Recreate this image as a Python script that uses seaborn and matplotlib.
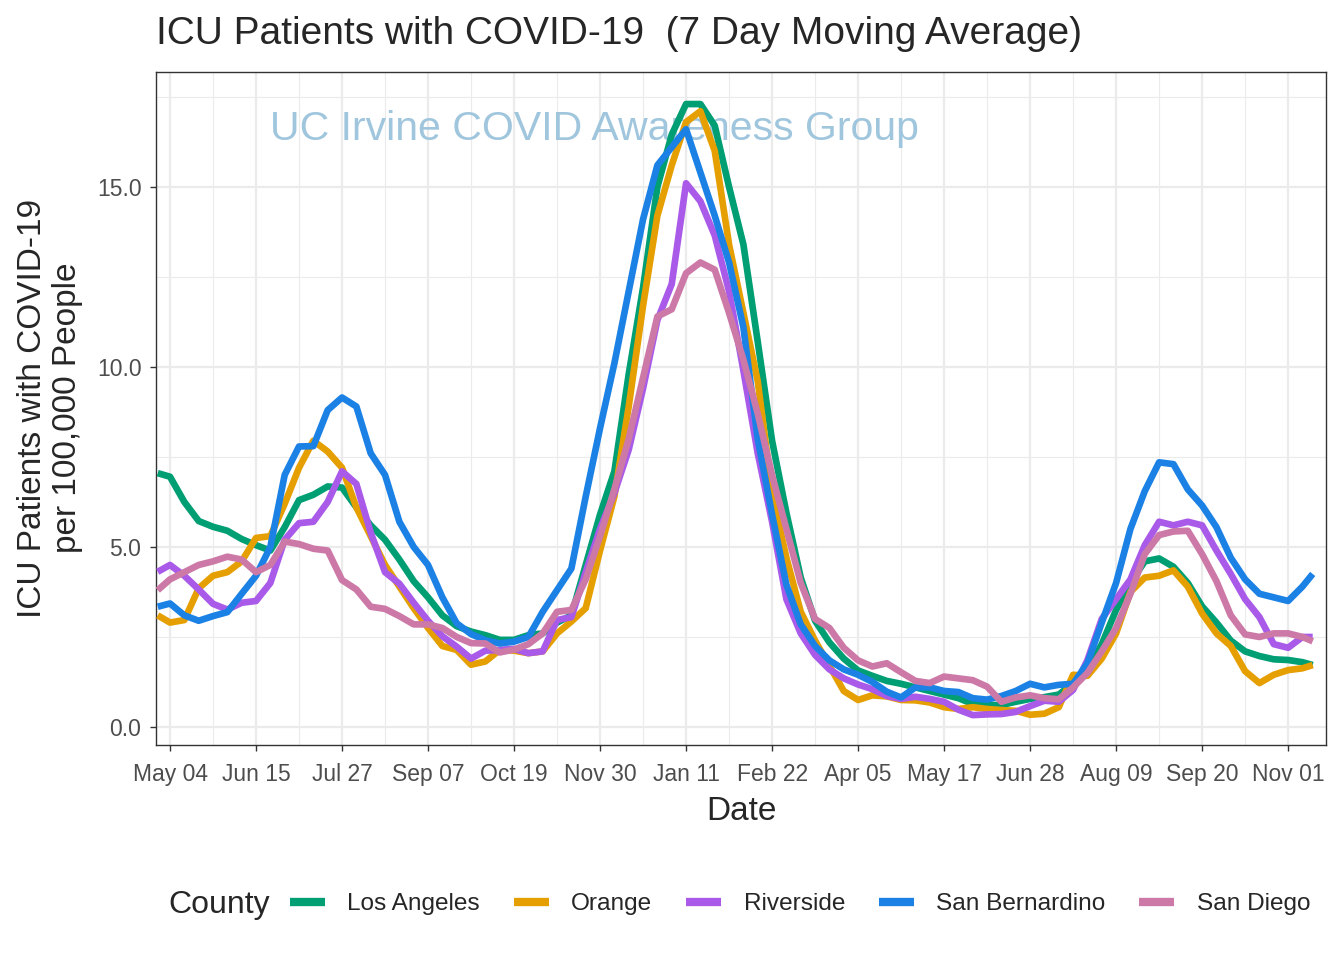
import numpy as np
import pandas as pd
import matplotlib
matplotlib.use("Agg")
import matplotlib.pyplot as plt
import matplotlib.dates as mdates
from matplotlib.lines import Line2D
import seaborn as sns

# ---------------- data ----------------
counties = ["Los Angeles", "Orange", "Riverside", "San Bernardino", "San Diego"]
colors = ["#009E73", "#E69F00", "#A95AE9", "#1B81E5", "#CC79A7"]

first_date = "2020-04-28"
weekly_start = "2020-05-04"
n_weekly = 80
last_date = "2021-11-13"

los_angeles = [7.05, 6.95, 6.25, 5.72, 5.56, 5.45, 5.22, 5.05, 4.9, 5.55,
               6.3, 6.45, 6.68, 6.65, 6.1, 5.6, 5.2, 4.65, 4.05, 3.6,
               3.1, 2.8, 2.65, 2.55, 2.42, 2.42, 2.55, 2.6, 2.9, 3.1,
               4.5, 5.9, 7.1, 9.8, 12.2, 15.0, 16.45, 17.3, 17.3, 16.7,
               15.0, 13.4, 10.7, 7.95, 5.95, 4.15, 2.95, 2.35, 1.9, 1.57,
               1.42, 1.28, 1.2, 1.1, 1.0, 0.9, 0.8, 0.64, 0.61, 0.61,
               0.7, 0.78, 0.83, 0.9, 1.21, 1.58, 2.3, 3.25, 4.0, 4.6,
               4.68, 4.45, 4.0, 3.35, 2.9, 2.4, 2.1, 1.97, 1.88, 1.86,
               1.8, 1.72]

orange = [3.1, 2.9, 2.97, 3.85, 4.2, 4.3, 4.6, 5.25, 5.3, 6.2,
          7.2, 7.95, 7.65, 7.2, 6.1, 5.3, 4.5, 3.9, 3.3, 2.75,
          2.25, 2.14, 1.73, 1.82, 2.14, 2.12, 2.05, 2.1, 2.6, 2.93,
          3.3, 4.9, 6.4, 8.9, 11.7, 14.2, 15.6, 16.8, 17.1, 16.0,
          13.4, 11.5, 9.6, 6.5, 4.7, 3.2, 2.4, 1.7, 1.0, 0.75,
          0.88, 0.85, 0.75, 0.74, 0.68, 0.55, 0.5, 0.55, 0.5, 0.47,
          0.45, 0.34, 0.37, 0.55, 1.45, 1.42, 1.9, 2.6, 3.75, 4.15,
          4.2, 4.35, 3.9, 3.15, 2.6, 2.25, 1.55, 1.22, 1.45, 1.58,
          1.63, 1.72]

riverside = [4.31, 4.5, 4.2, 3.82, 3.42, 3.26, 3.45, 3.5, 4.0, 5.2,
             5.66, 5.7, 6.25, 7.1, 6.75, 5.4, 4.3, 3.98, 3.45, 2.95,
             2.52, 2.23, 1.9, 2.12, 2.14, 2.17, 2.05, 2.1, 2.97, 3.05,
             4.3, 5.5, 6.5, 7.7, 9.4, 11.3, 12.3, 15.1, 14.6, 13.65,
             12.1, 9.9, 7.6, 5.7, 3.55, 2.6, 2.0, 1.6, 1.35, 1.18,
             1.05, 0.86, 0.78, 0.84, 0.78, 0.7, 0.48, 0.33, 0.35, 0.36,
             0.42, 0.58, 0.73, 0.7, 1.03, 1.86, 3.0, 3.55, 4.1, 5.05,
             5.7, 5.6, 5.7, 5.6, 4.9, 4.25, 3.55, 3.05, 2.3, 2.2,
             2.5, 2.5]

san_bernardino = [3.34, 3.43, 3.1, 2.95, 3.08, 3.19, 3.7, 4.2, 5.0, 7.0,
                  7.79, 7.8, 8.8, 9.15, 8.9, 7.6, 7.0, 5.7, 5.0, 4.5,
                  3.6, 2.88, 2.58, 2.41, 2.32, 2.37, 2.5, 3.2, 3.8, 4.4,
                  6.4, 8.3, 10.1, 12.1, 14.1, 15.6, 16.1, 16.6, 15.4, 14.2,
                  12.9, 11.1, 8.0, 5.9, 3.95, 2.85, 2.25, 1.85, 1.6, 1.45,
                  1.25, 0.98, 0.82, 1.1, 1.1, 1.0, 0.97, 0.8, 0.76, 0.86,
                  1.0, 1.2, 1.1, 1.17, 1.2, 1.77, 2.9, 4.0, 5.5, 6.55,
                  7.35, 7.3, 6.6, 6.15, 5.55, 4.7, 4.1, 3.7, 3.6, 3.5,
                  3.9, 4.25]

san_diego = [3.8, 4.1, 4.3, 4.5, 4.6, 4.73, 4.65, 4.3, 4.5, 5.15,
             5.08, 4.95, 4.9, 4.08, 3.82, 3.34, 3.28, 3.08, 2.85, 2.85,
             2.75, 2.5, 2.33, 2.32, 2.07, 2.15, 2.3, 2.6, 3.2, 3.25,
             4.1, 5.3, 6.6, 8.0, 9.7, 11.4, 11.6, 12.6, 12.9, 12.7,
             11.5, 10.2, 8.7, 7.0, 5.5, 4.0, 3.0, 2.75, 2.2, 1.85,
             1.68, 1.77, 1.52, 1.28, 1.22, 1.4, 1.35, 1.3, 1.12, 0.7,
             0.82, 0.88, 0.8, 0.77, 1.1, 1.5, 2.1, 2.75, 3.7, 4.8,
             5.33, 5.43, 5.45, 4.8, 4.05, 3.1, 2.57, 2.5, 2.6, 2.6,
             2.5, 2.38]

tick_start = "2020-05-04"
tick_labels = ["May 04", "Jun 15", "Jul 27", "Sep 07", "Oct 19", "Nov 30", "Jan 11",
               "Feb 22", "Apr 05", "May 17", "Jun 28", "Aug 09", "Sep 20", "Nov 01"]
y_ticks = [0.0, 5.0, 10.0, 15.0]

title = "ICU Patients with COVID-19  (7 Day Moving Average)"
watermark = "UC Irvine COVID Awareness Group"
y_label = "ICU Patients with COVID-19\nper 100,000 People"
x_label = "Date"
legend_title = "County"

# ---------------- build frame ----------------
dates = (pd.DatetimeIndex([pd.Timestamp(first_date)])
         .append(pd.date_range(weekly_start, periods=n_weekly, freq="7D"))
         .append(pd.DatetimeIndex([pd.Timestamp(last_date)])))
series = [los_angeles, orange, riverside, san_bernardino, san_diego]
frames = []
for name, vals in zip(counties, series):
    frames.append(pd.DataFrame({"Date": dates, "value": vals, "County": name}))
df = pd.concat(frames, ignore_index=True)

# ---------------- style ----------------
sns.set_theme(style="white")
plt.rcParams['font.family'] = ['Liberation Sans', 'DejaVu Sans']

W, H = 1344, 960
fig = plt.figure(figsize=(W / 100, H / 100), dpi=100)
fig.patch.set_facecolor("white")
pl, pr, pt, pb = 156, 1326, 72, 745
ax = fig.add_axes([pl / W, 1 - pb / H, (pr - pl) / W, (pb - pt) / H])

palette = dict(zip(counties, colors))
sns.lineplot(data=df, x="Date", y="value", hue="County", palette=palette,
             linewidth=4.8, ax=ax, legend=False, estimator=None, sort=False,
             zorder=3)
for ln in ax.get_lines():
    ln.set_solid_capstyle("butt")
    ln.set_solid_joinstyle("round")

t0 = pd.Timestamp(tick_start)
tick_dates = pd.date_range(tick_start, periods=len(tick_labels), freq="42D")
ax.set_xticks(mdates.date2num(tick_dates))
ax.set_xticklabels(tick_labels)
minor_dates = pd.date_range(t0 + pd.Timedelta(days=21),
                            periods=len(tick_labels) - 1, freq="42D")
ax.set_xticks(mdates.date2num(minor_dates), minor=True)

ax.set_yticks(y_ticks)
ax.set_yticklabels([f"{v:.1f}" for v in y_ticks])
ax.set_yticks([2.5, 7.5, 12.5, 17.5], minor=True)

# axes limits (after ticks so they are not expanded)
x_lo = mdates.date2num(t0) - 6.84
x_hi = mdates.date2num(t0) + 564.5
ax.set_xlim(x_lo, x_hi)
ax.set_ylim(-0.5, 18.19)

ax.grid(which="major", color="#EBEBEB", linewidth=1.6)
ax.grid(which="minor", color="#EBEBEB", linewidth=0.8)
ax.set_axisbelow(True)

for sp in ax.spines.values():
    sp.set_visible(True)
    sp.set_color("#333333")
    sp.set_linewidth(1.0)

ax.tick_params(which="major", length=4, width=1, color="#333333",
               labelsize=16.5, labelcolor="#4D4D4D",
               bottom=True, left=True)
ax.tick_params(axis="x", which="major", pad=9)
ax.tick_params(axis="y", which="major", pad=6.5)
ax.tick_params(which="minor", length=0)
ax.set_xlabel("")
ax.set_ylabel("")

# watermark
ax.text(mdates.date2num(t0) + (270 - 170) / 2.048, 16.6, watermark,
        fontsize=29.5, color="#A0C6DE", ha="left", va="center", zorder=1)

# titles & labels
fig.text(156 / W, 1 - 44 / H, title, fontsize=28, ha="left", va="baseline")
fig.text(50 / W, 1 - 408 / H, y_label, fontsize=24, rotation=90,
         ha="center", va="center", multialignment="center")
fig.text(741 / W, 1 - 811 / H, x_label, fontsize=24, ha="center", va="center")

# legend
fig.text(168 / W, 1 - 905 / H, legend_title, fontsize=23, ha="left", va="center")
handles = [Line2D([0], [0], color=c, linewidth=6, solid_capstyle="butt") for c in colors]
fig.legend(handles, counties, loc="center left",
           bbox_to_anchor=(290 / W, 1 - 904 / H), ncol=5, frameon=False,
           fontsize=17.6, handlelength=1.43, handletextpad=0.92,
           columnspacing=1.38, borderpad=0, borderaxespad=0)

fig.savefig("out.png", dpi=100, facecolor="white")
